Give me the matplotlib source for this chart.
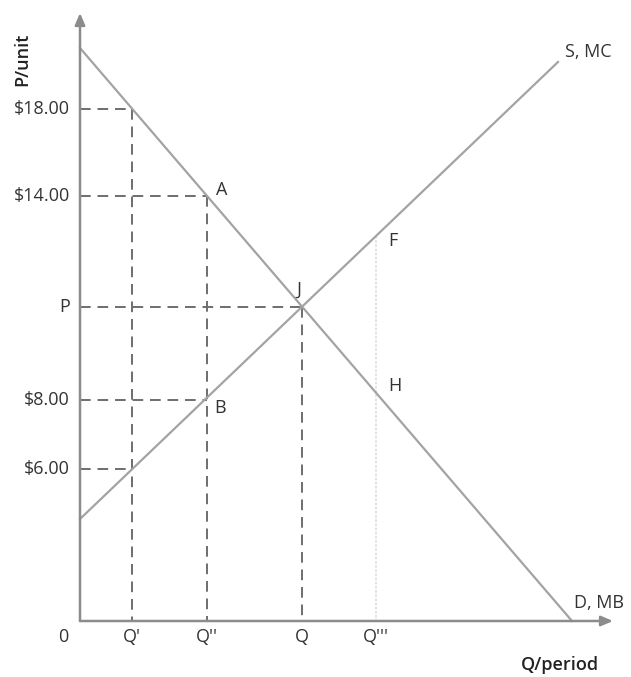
import matplotlib
matplotlib.use("Agg")
import matplotlib.pyplot as plt

# --- DATA (chart units, origin at the axes corner) ---
demand_x = [0, 492]
demand_y = [573, 0]
supply_x = [0, 478]
supply_y = [102, 559]

q_labels = ["Q'", "Q''", "Q", "Q'''"]
q_pos = [52, 127, 222, 296]

p_labels = ["$18.00", "$14.00", "P", "$8.00", "$6.00"]
p_pos = [512, 425, 314, 221, 152]

# guide segments: (x0, y0, x1, y1)
dashed_guides = [
    (0, 512, 52, 512), (52, 512, 52, 0), (0, 152, 52, 152),
    (0, 425, 127, 425), (127, 425, 127, 0), (0, 221, 127, 221),
    (0, 314, 222, 314), (222, 314, 222, 0),
]
light_guide = (296, 385, 296, 0)

point_labels = ["A", "B", "J", "F", "H"]
point_xy = [(136, 431), (134, 213), (216, 331), (308, 380), (308, 235)]

plt.rcParams['font.family'] = ['Open Sans', 'DejaVu Sans']

fig = plt.figure(figsize=(6.31, 6.77), dpi=100)
ax = fig.add_axes([0, 0, 1, 1])
ax.set_xlim(-80, 551)
ax.set_ylim(-56, 621)
ax.axis("off")

dash_col = "#6e6e6e"
line_col = "#a3a3a3"

for x0, y0, x1, y1 in dashed_guides:
    ax.plot([x0, x1], [y0, y1], color=dash_col, lw=1.4, dashes=(5.5, 3.5), zorder=2)
ax.plot([light_guide[0], light_guide[2]], [light_guide[1], light_guide[3]],
        color="#dddddd", lw=1.2, ls=(0, (1.5, 1)), zorder=1)

ax.plot(demand_x, demand_y, color=line_col, lw=1.6, zorder=3)
ax.plot(supply_x, supply_y, color=line_col, lw=1.6, zorder=3)

# axes with arrows
ax.annotate("", xy=(533, 0), xytext=(0, 0),
            arrowprops=dict(arrowstyle="-|>,head_length=0.7,head_width=0.3",
                            color="#8c8c8c", lw=1.8, shrinkA=0, shrinkB=0))
ax.annotate("", xy=(0, 608), xytext=(0, 0),
            arrowprops=dict(arrowstyle="-|>,head_length=0.7,head_width=0.3",
                            color="#8c8c8c", lw=1.8, shrinkA=0, shrinkB=0))

fs = 13
tc = "#333333"
for lab, p in zip(p_labels, p_pos):
    ax.text(-10, p, lab, ha="right", va="center", fontsize=fs, color=tc)
ax.text(-17, -16, "0", ha="center", va="center", fontsize=fs, color=tc)
for lab, q in zip(q_labels, q_pos):
    ax.text(q, -16, lab, ha="center", va="center", fontsize=fs, color=tc)

for lab, (x, y) in zip(point_labels, point_xy):
    ax.text(x, y, lab, ha="left", va="center", fontsize=fs, color=tc)

ax.text(485, 569, "S, MC", ha="left", va="center", fontsize=fs, color=tc)
ax.text(494, 18, "D, MB", ha="left", va="center", fontsize=fs, color=tc)

ax.text(-58, 562, "P/unit", ha="center", va="center", rotation=90,
        fontsize=fs, color="#222222", fontweight="semibold")
ax.text(519, -44, "Q/period", ha="right", va="center",
        fontsize=fs, color="#222222", fontweight="semibold")

fig.savefig("out.png", dpi=100, facecolor="white")
